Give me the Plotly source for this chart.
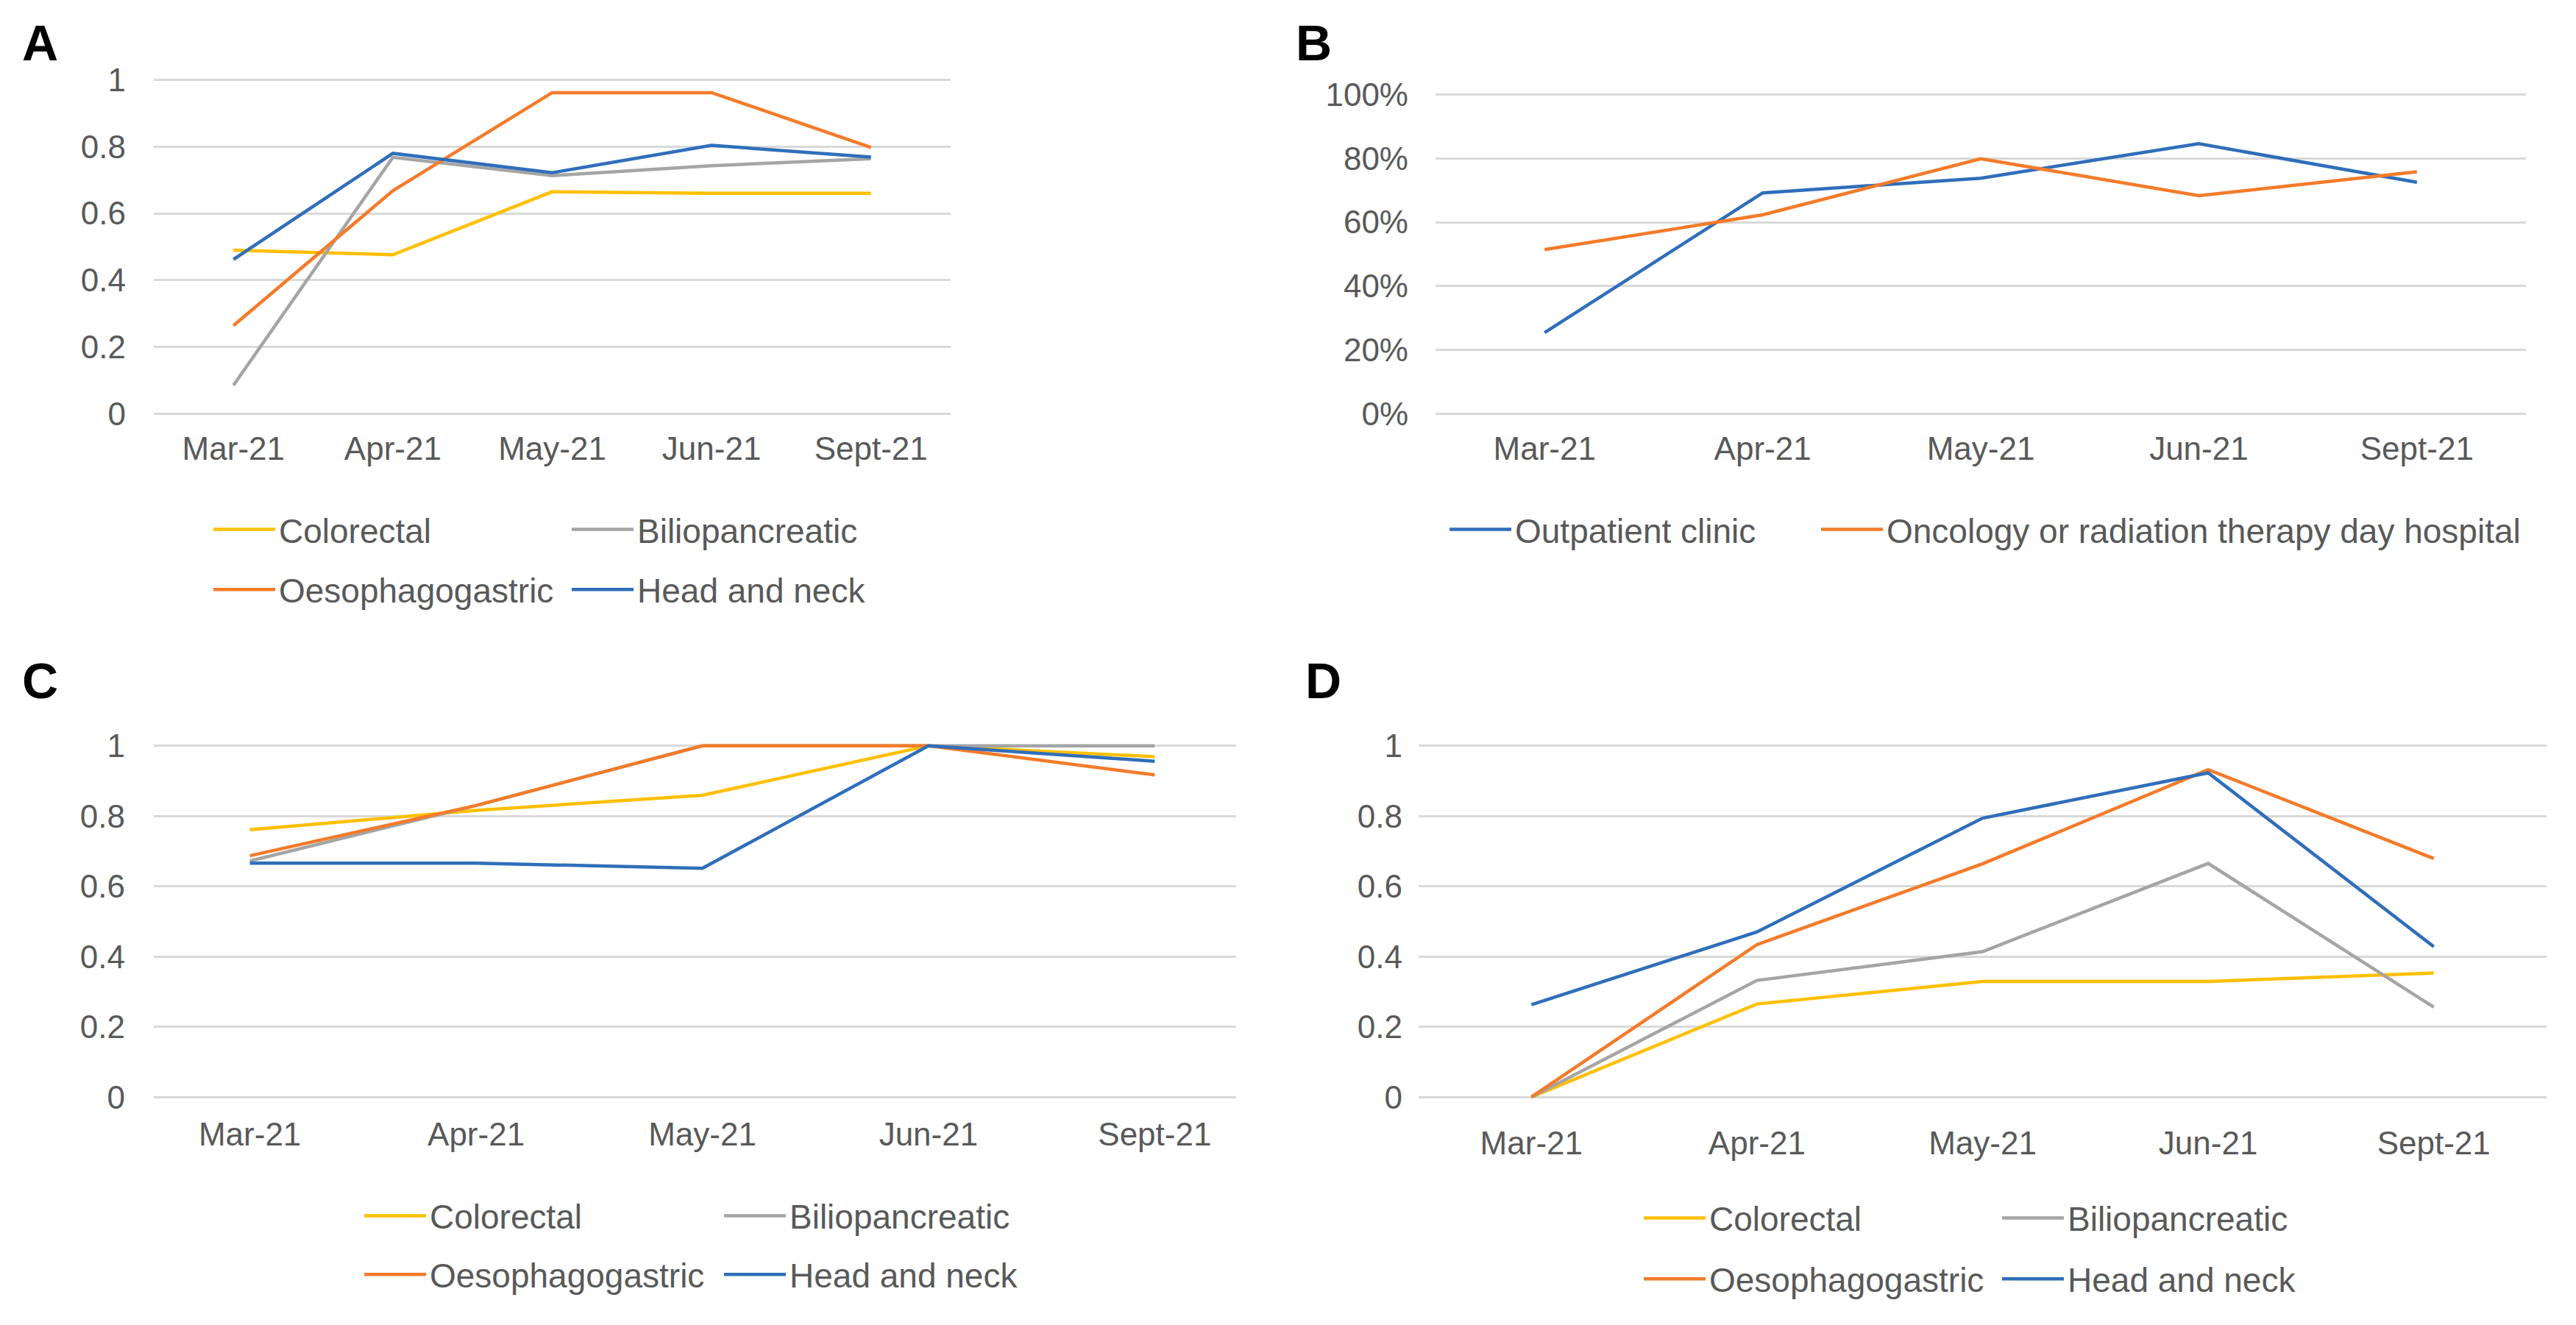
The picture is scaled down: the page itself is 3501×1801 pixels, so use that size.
import plotly.graph_objects as go

# ---------------- data ----------------
months = ["Mar-21", "Apr-21", "May-21", "Jun-21", "Sept-21"]

series_names = ["Colorectal", "Biliopancreatic", "Oesophagogastric", "Head and neck"]

a_colorectal = [0.49, 0.476, 0.665, 0.66, 0.66]
a_bilio = [0.085, 0.768, 0.713, 0.743, 0.764]
a_oeso = [0.264, 0.668, 0.962, 0.962, 0.798]
a_head = [0.462, 0.780, 0.722, 0.804, 0.769]

b_names = ["Outpatient clinic", "Oncology or radiation therapy day hospital"]
b_outpatient = [25.4, 69.2, 73.8, 84.6, 72.5]
b_oncology = [51.4, 62.3, 79.9, 68.3, 75.8]

c_colorectal = [0.761, 0.816, 0.859, 1.0, 0.969]
c_bilio = [0.672, 0.83, 1.0, 1.0, 1.0]
c_oeso = [0.687, 0.83, 1.0, 1.0, 0.917]
c_head = [0.666, 0.666, 0.651, 1.0, 0.956]

d_colorectal = [0.0, 0.265, 0.329, 0.329, 0.353]
d_bilio = [0.0, 0.332, 0.414, 0.665, 0.256]
d_oeso = [0.0, 0.434, 0.664, 0.932, 0.679]
d_head = [0.263, 0.470, 0.794, 0.923, 0.428]

y_ticks = [0, 0.2, 0.4, 0.6, 0.8, 1]
y_ticktext = ["0", "0.2", "0.4", "0.6", "0.8", "1"]
pct_ticks = [0, 20, 40, 60, 80, 100]
pct_ticktext = ["0%", "20%", "40%", "60%", "80%", "100%"]

# ---------------- style ----------------
W, H = 3501, 1801
KY = 1.0085  # vertical calibration of measured pixel rows
YELLOW, GRAY, ORANGE, BLUE = "#FFC000", "#A5A5A5", "#F47B2A", "#2F6EBA"
colors4 = [YELLOW, GRAY, ORANGE, BLUE]
TXT = "#595959"
GRID = "#D9D9D9"
FONT = "Liberation Sans, Arial, sans-serif"
LW = 4.5
ITEMW = 84


def xdom(a, b):
    return [a / W, b / W]


def ydom_from(p0, p1, v0, v1, lo, hi):
    """p0/p1: pixel rows of values v0/v1; returns paper domain for range [lo, hi]."""
    p0, p1 = p0 * KY, p1 * KY
    unit = (p0 - p1) / (v1 - v0)
    top = p1 - (hi - v1) * unit
    bottom = p0 + (v0 - lo) * unit
    return [1 - bottom / H, 1 - top / H]


def px(x):
    return x / W


def py(y):
    return 1 - y * KY / H


fig = go.Figure()

# legends: one per legend row (line start x, row centre y, spacing between entries)
legend_rows = {
    "legend": (292, 719, 489),
    "legend2": (292, 801, 489),
    "legend3": (1972, 719, 0),
    "legend8": (2477, 719, 0),
    "legend4": (497, 1655, 491),
    "legend5": (497, 1735, 491),
    "legend6": (2236, 1658, 489),
    "legend7": (2236, 1741, 489),
}

panels = [
    ("x", "y", [a_colorectal, a_bilio, a_oeso, a_head], series_names, colors4,
     ["legend", "legend", "legend2", "legend2"]),
    ("x2", "y2", [b_outpatient, b_oncology], b_names, [BLUE, ORANGE],
     ["legend3", "legend8"]),
    ("x3", "y3", [c_colorectal, c_bilio, c_oeso, c_head], series_names, colors4,
     ["legend4", "legend4", "legend5", "legend5"]),
    ("x4", "y4", [d_colorectal, d_bilio, d_oeso, d_head], series_names, colors4,
     ["legend6", "legend6", "legend7", "legend7"]),
]

for xa, ya, vals, names, cols, legs in panels:
    for v, n, c, lg in zip(vals, names, cols, legs):
        fig.add_trace(go.Scatter(
            x=months, y=v, name=n, mode="lines",
            line=dict(color=c, width=LW),
            xaxis=xa, yaxis=ya, legend=lg, hoverinfo="x+y+name",
        ))

common_x = dict(type="category", categoryorder="array", categoryarray=months,
                showgrid=False, zeroline=False, showline=False, ticks="",
                tickfont=dict(family=FONT, size=44, color=TXT),
                ticklabelstandoff=12, fixedrange=True)
common_y = dict(showgrid=True, gridcolor=GRID, gridwidth=3, zeroline=False,
                showline=False, ticks="",
                tickfont=dict(family=FONT, size=44, color=TXT),
                fixedrange=True)

layout = dict(
    width=W, height=H, margin=dict(l=0, r=0, t=0, b=0),
    paper_bgcolor="white", plot_bgcolor="white", showlegend=True,
    xaxis=dict(common_x, domain=xdom(209, 1292), range=[-0.5, 4.5], anchor="y"),
    yaxis=dict(common_y, domain=ydom_from(561, 106, 0, 1, -0.0136, 1.05),
               range=[-0.0136, 1.05], tickvals=y_ticks, ticktext=y_ticktext,
               ticklabelstandoff=37, anchor="x"),
    xaxis2=dict(common_x, domain=xdom(1951, 3433), range=[-0.5, 4.5], anchor="y2"),
    yaxis2=dict(common_y, domain=ydom_from(561, 126, 0, 100, -1.43, 105),
                range=[-1.43, 105], tickvals=pct_ticks, ticktext=pct_ticktext,
                ticklabelstandoff=36, anchor="x2"),
    xaxis3=dict(common_x, domain=xdom(209, 1680), range=[-0.425, 4.36], anchor="y3"),
    yaxis3=dict(common_y, domain=ydom_from(1493, 1014, 0, 1, -0.019, 1.05),
                range=[-0.019, 1.05], tickvals=y_ticks, ticktext=y_ticktext,
                ticklabelstandoff=38, anchor="x3"),
    xaxis4=dict(common_x, domain=xdom(1928, 3461), range=[-0.5, 4.5], anchor="y4"),
    yaxis4=dict(common_y, domain=ydom_from(1493, 1014, 0, 1, -0.044, 1.05),
                range=[-0.044, 1.05], tickvals=y_ticks, ticktext=y_ticktext,
                ticklabelstandoff=21, anchor="x4"),
)

for key, (lx, ly, ew) in legend_rows.items():
    leg = dict(
        orientation="h", x=px(lx - 7), y=py(ly), xanchor="left", yanchor="middle",
        xref="paper", yref="paper",
        font=dict(family=FONT, size=46, color=TXT),
        itemwidth=ITEMW,
        bgcolor="rgba(0,0,0,0)", borderwidth=0, traceorder="normal",
        itemclick=False, itemdoubleclick=False,
    )
    if ew:
        leg["entrywidth"] = ew - ITEMW - 17
        leg["entrywidthmode"] = "pixels"
    layout[key] = leg

fig.update_layout(**layout)

labels = [("A", 28, 55), ("B", 1759, 55), ("C", 28, 925), ("D", 1772, 925)]
for t, lx, ly in labels:
    fig.add_annotation(text="<b>%s</b>" % t, x=px(lx), y=py(ly), xref="paper", yref="paper",
                       xanchor="left", yanchor="middle", showarrow=False,
                       font=dict(family=FONT, size=68, color="black"))

fig.write_html("out.html", include_plotlyjs=True,
               config={"displayModeBar": False},
               post_script="document.body.style.margin='0';document.body.style.overflow='hidden';")
